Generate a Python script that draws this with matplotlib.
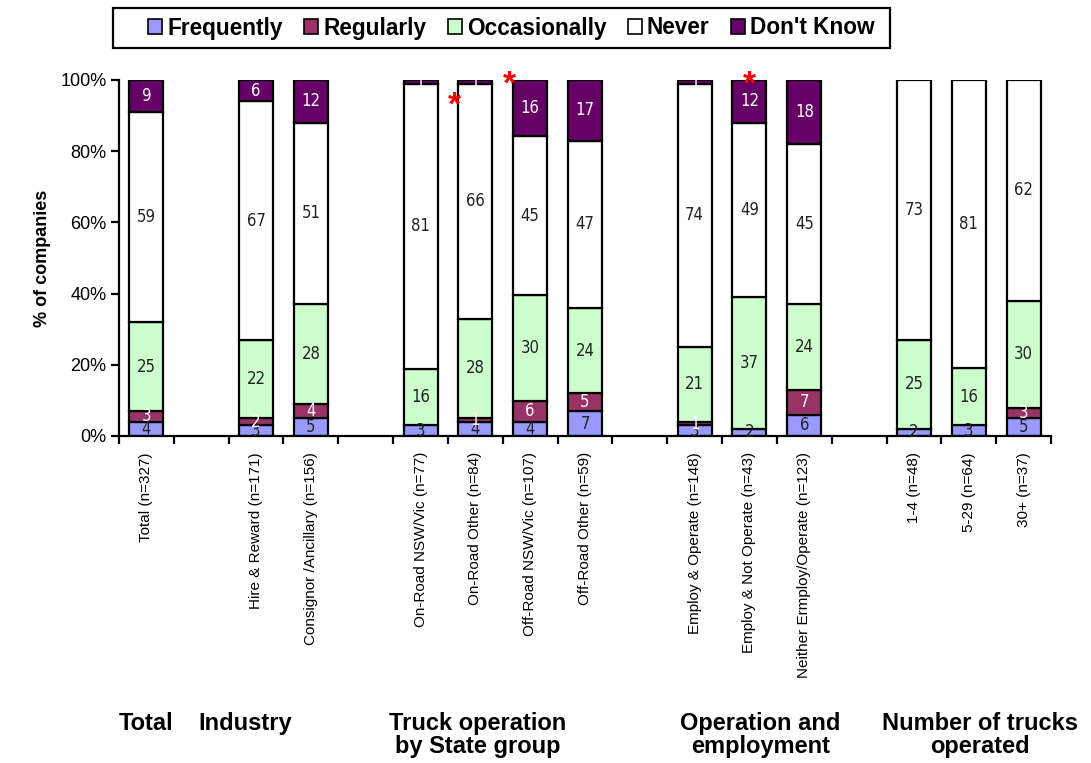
import numpy as np
import matplotlib
matplotlib.use("Agg")
import matplotlib.pyplot as plt
from matplotlib.patches import Patch, Rectangle

# Survey responses by group (percent of companies); None marks a gap slot
categories = ["Total (n=327)", None,
              "Hire & Reward (n=171)", "Consignor /Ancillary (n=156)", None,
              "On-Road NSW/Vic (n=77)", "On-Road Other (n=84)",
              "Off-Road NSW/Vic (n=107)", "Off-Road Other (n=59)", None,
              "Employ & Operate (n=148)", "Employ & Not Operate (n=43)",
              "Neither Ermploy/Operate (n=123)", None,
              "1-4 (n=48)", "5-29 (n=64)", "30+ (n=37)"]

frequently   = [4, 0, 3, 5, 0, 3, 4, 4, 7, 0, 3, 2, 6, 0, 2, 3, 5]
regularly    = [3, 0, 2, 4, 0, 0, 1, 6, 5, 0, 1, 0, 7, 0, 0, 0, 3]
occasionally = [25, 0, 22, 28, 0, 16, 28, 30, 24, 0, 21, 37, 24, 0, 25, 16, 30]
never        = [59, 0, 67, 51, 0, 81, 66, 45, 47, 0, 74, 49, 45, 0, 73, 81, 62]
dont_know    = [9, 0, 6, 12, 0, 1, 1, 16, 17, 0, 1, 12, 18, 0, 0, 0, 0]

series_names = ["Frequently", "Regularly", "Occasionally", "Never", "Don't Know"]
series_vals = [frequently, regularly, occasionally, never, dont_know]
series_colors = ["#9999FF", "#993366", "#CCFFCC", "#FFFFFF", "#660066"]
label_colors = ["#222222", "white", "#222222", "#222222", "white"]

group_titles = ["Total", "Industry", "Truck operation\nby State group",
                "Operation and\nemployment", "Number of trucks\noperated"]
group_centers = [0, 1.8, 6.05, 11.2, 15.2]

# significance markers (slot position, percent)
star_x = [5.62, 6.62, 11.0]
star_y = [92.6, 98.6, 98.6]

W, H = 1091, 763
fig = plt.figure(figsize=(W / 100, H / 100), dpi=100)
ax = fig.add_axes([119 / W, 1 - 436 / H, (1051 - 119) / W, (436 - 80) / H])

narrow = ["Liberation Sans Narrow", "Liberation Sans"]

x = np.arange(len(categories))
vals = np.array(series_vals, dtype=float)
totals = vals.sum(axis=0)
totals[totals == 0] = 1
pct = vals / totals * 100

bottom = np.zeros(len(categories))
for k, (name, color) in enumerate(zip(series_names, series_colors)):
    for i, c in enumerate(categories):
        if c is None:
            continue
        h = pct[k, i]
        if vals[k, i] > 0:
            ax.bar(x[i], h, bottom=bottom[i], width=0.62, color=color,
                   edgecolor="black", linewidth=1.6, zorder=2)
            ax.text(x[i], bottom[i] + h / 2, f"{int(vals[k, i])}",
                    ha="center", va="center", fontsize=12,
                    color=label_colors[k], family="DejaVu Sans",
                    fontstretch="condensed", zorder=3)
        bottom[i] += h

ax.set_xlim(-0.5, 16.5)
ax.set_ylim(0, 100)
ax.set_yticks(np.arange(0, 101, 20))
ax.set_yticklabels([f"{v}%" for v in range(0, 101, 20)], family=narrow, fontsize=13)
ax.set_xticks(np.arange(-0.5, 16.6, 1))
ax.set_xticklabels([])
ax.tick_params(axis="both", direction="out", length=6, width=1.6, color="black")
ax.tick_params(axis="y", pad=3)
for side in ["top", "right"]:
    ax.spines[side].set_visible(False)
for side in ["left", "bottom"]:
    ax.spines[side].set_linewidth(1.6)

for i, c in enumerate(categories):
    if c is None:
        continue
    ax.text(x[i], -4.5, c, rotation=90, ha="center", va="top",
            fontsize=11, family=narrow, clip_on=False)

ax.set_ylabel("% of companies", fontsize=13, fontweight="bold",
              family="Liberation Sans")
ax.yaxis.set_label_coords((51 - 119) / (1051 - 119), 0.5)

for gx, title in zip(group_centers, group_titles):
    ax.text(gx, -77.5, title, ha="center", va="top", fontsize=17,
            fontweight="bold", family="Liberation Sans", clip_on=False,
            linespacing=1.0)

for sx, sy in zip(star_x, star_y):
    ax.text(sx, sy, "*", color="red", fontsize=24, fontweight="bold",
            ha="center", va="center", family="Liberation Sans", clip_on=False)

# legend entries with a separate outer box
handles = [Patch(facecolor=c, edgecolor="black", linewidth=1.2) for c in series_colors]
leg = fig.legend(handles, series_names, loc="center left",
                 bbox_to_anchor=(148 / W, 1 - 28 / H), ncol=5,
                 borderaxespad=0, borderpad=0, frameon=False,
                 prop={"family": "Liberation Sans", "weight": "bold", "size": 16.3},
                 handlelength=0.62, handleheight=0.62, handletextpad=0.22,
                 columnspacing=0.95)
fig.patches.append(Rectangle((113 / W, 1 - 48 / H), (890 - 113) / W, 40 / H,
                             transform=fig.transFigure, fill=False,
                             edgecolor="black", linewidth=1.6))

fig.savefig("out.png", dpi=100, facecolor="white")
